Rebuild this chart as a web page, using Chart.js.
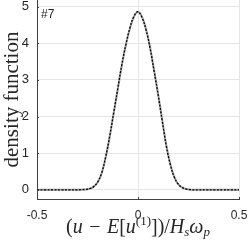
<!DOCTYPE html>
<html>
<head>
<meta charset="utf-8">
<script src="https://cdn.jsdelivr.net/npm/chart.js@4"></script>
<style>
  html, body { margin: 0; padding: 0; background: #fff; }
  #wrap { width: 249px; height: 246px; position: relative; }
</style>
</head>
<body>
<div id="wrap"><canvas id="c" width="249" height="246"></canvas></div>
<script>
// 横轴取值 (u - E[u^(1)]) / Hs ωp
const xValues = [-0.5, -0.46, -0.42, -0.38, -0.34, -0.30, -0.28, -0.26, -0.24, -0.22, -0.20, -0.18, -0.16, -0.14,
  -0.12, -0.10, -0.08, -0.06, -0.04, -0.02, 0, 0.02, 0.04, 0.06, 0.08, 0.10, 0.12, 0.14, 0.16,
  0.18, 0.20, 0.22, 0.24, 0.26, 0.28, 0.30, 0.34, 0.38, 0.42, 0.46, 0.5];
// 灰色实线：理论密度
const densityModel = [0, 0, 0, 0, 0, 0, 0.005, 0.01, 0.03, 0.08, 0.2, 0.45, 0.88, 1.45,
  2.1, 2.75, 3.4, 3.95, 4.4, 4.72, 4.85, 4.72, 4.38, 3.88, 3.25, 2.6, 1.9, 1.22, 0.7,
  0.35, 0.15, 0.06, 0.02, 0.005, 0, 0, 0, 0, 0, 0, 0];
// 黑色点划线：模拟结果
const densitySim = [0, 0, 0, 0, 0, 0, 0.005, 0.012, 0.03, 0.085, 0.21, 0.46, 0.9, 1.47,
  2.12, 2.77, 3.42, 3.97, 4.42, 4.74, 4.86, 4.7, 4.36, 3.86, 3.23, 2.58, 1.88, 1.2, 0.69,
  0.34, 0.15, 0.06, 0.02, 0.005, 0, 0, 0, 0, 0, 0, 0];
const xTicks = [-0.5, 0, 0.5];
const yTicks = [0, 1, 2, 3, 4, 5];
const panelLabel = '#7';

const toPts = (ys) => xValues.map((x, i) => ({ x, y: ys[i] }));

// x 轴标题（含上下标）、面板编号与内向刻度，手动绘制
const overlayPlugin = {
  id: 'overlay',
  afterDraw(chart) {
    const c = chart.ctx;
    const area = chart.chartArea;
    const fam = "'Liberation Serif', 'DejaVu Serif', serif";
    const segs = [
      { t: '(', it: false }, { t: 'u', it: true }, { t: ' − ', it: false, gap: 1.5 }, { t: 'E', it: true },
      { t: '[', it: false }, { t: 'u', it: true }, { t: '(1)', it: false, sup: true },
      { t: '])/', it: false }, { t: 'H', it: true }, { t: 's', it: true, sub: true },
      { t: 'ω', it: true }, { t: 'p', it: true, sub: true }
    ];
    const fontOf = (s) => (s.it ? 'italic ' : '') + ((s.sup || s.sub) ? 13 : 20) + 'px ' + fam;
    c.save();
    c.fillStyle = '#262626';
    c.textBaseline = 'alphabetic';
    let total = 0;
    segs.forEach(s => { c.font = fontOf(s); s.w = c.measureText(s.t).width + 2 * (s.gap || 0); total += s.w; });
    let x = (area.left + area.right) / 2 - total / 2;
    const base = 233;
    segs.forEach(s => {
      c.font = fontOf(s);
      const dy = s.sup ? -8 : s.sub ? 3 : 0;
      c.fillText(s.t, x + (s.gap || 0), base + dy);
      x += s.w;
    });
    // 面板编号
    c.font = "12px 'Liberation Sans', Arial, sans-serif";
    c.fillText(panelLabel, area.left + 4, 18);
    // 内向刻度
    c.strokeStyle = '#404040';
    c.lineWidth = 1;
    const ys = chart.scales.y, xs = chart.scales.x;
    c.beginPath();
    yTicks.forEach(v => {
      const py = Math.round(ys.getPixelForValue(v)) + 0.5;
      c.moveTo(area.left, py); c.lineTo(area.left + 2, py);
    });
    xTicks.forEach(v => {
      const px = Math.round(xs.getPixelForValue(v)) + 0.5;
      c.moveTo(px, area.bottom); c.lineTo(px, area.bottom - 2);
    });
    c.stroke();
    c.restore();
  }
};

new Chart(document.getElementById('c'), {
  type: 'line',
  data: {
    datasets: [
      {
        data: toPts(densityModel),
        borderColor: '#a0a0a0',
        borderWidth: 2,
        pointRadius: 0,
        tension: 0.4,
        fill: false,
        order: 2
      },
      {
        data: toPts(densitySim),
        borderColor: '#000',
        borderWidth: 1.3,
        borderDash: [2, 1.5],
        pointRadius: 0,
        tension: 0.4,
        fill: false,
        order: 1
      }
    ]
  },
  options: {
    responsive: false,
    animation: false,
    layout: { padding: { top: 0, right: 10, left: 0, bottom: 0 } },
    plugins: { legend: { display: false }, tooltip: { enabled: false } },
    scales: {
      x: {
        type: 'linear',
        min: -0.5,
        max: 0.5,
        afterBuildTicks: (s) => { s.ticks = xTicks.map(v => ({ value: v })); },
        afterFit: (s) => { s.height = 47; s.paddingLeft = 0; s.paddingRight = 0; },
        ticks: {
          color: '#262626',
          font: { family: "'Liberation Sans', Arial, sans-serif", size: 12 },
          padding: 9,
          maxRotation: 0,
          callback: (v) => String(v)
        },
        grid: { color: '#e5e5e5', drawTicks: false },
        border: { display: true, color: '#404040', width: 1 }
      },
      y: {
        min: -0.25,
        max: 5.18,
        afterBuildTicks: (s) => { s.ticks = yTicks.map(v => ({ value: v })); },
        afterFit: (s) => { s.width = 37; s.paddingTop = 0; s.paddingBottom = 0; },
        ticks: {
          color: '#262626',
          font: { family: "'Liberation Sans', Arial, sans-serif", size: 13 },
          padding: 8
        },
        title: {
          display: true,
          text: 'density function',
          color: '#262626',
          font: { family: "'Liberation Serif', 'DejaVu Serif', serif", size: 21 },
          padding: 0
        },
        grid: { color: '#e5e5e5', drawTicks: false },
        border: { display: true, color: '#404040', width: 1 }
      }
    }
  },
  plugins: [overlayPlugin]
});
</script>
</body>
</html>
